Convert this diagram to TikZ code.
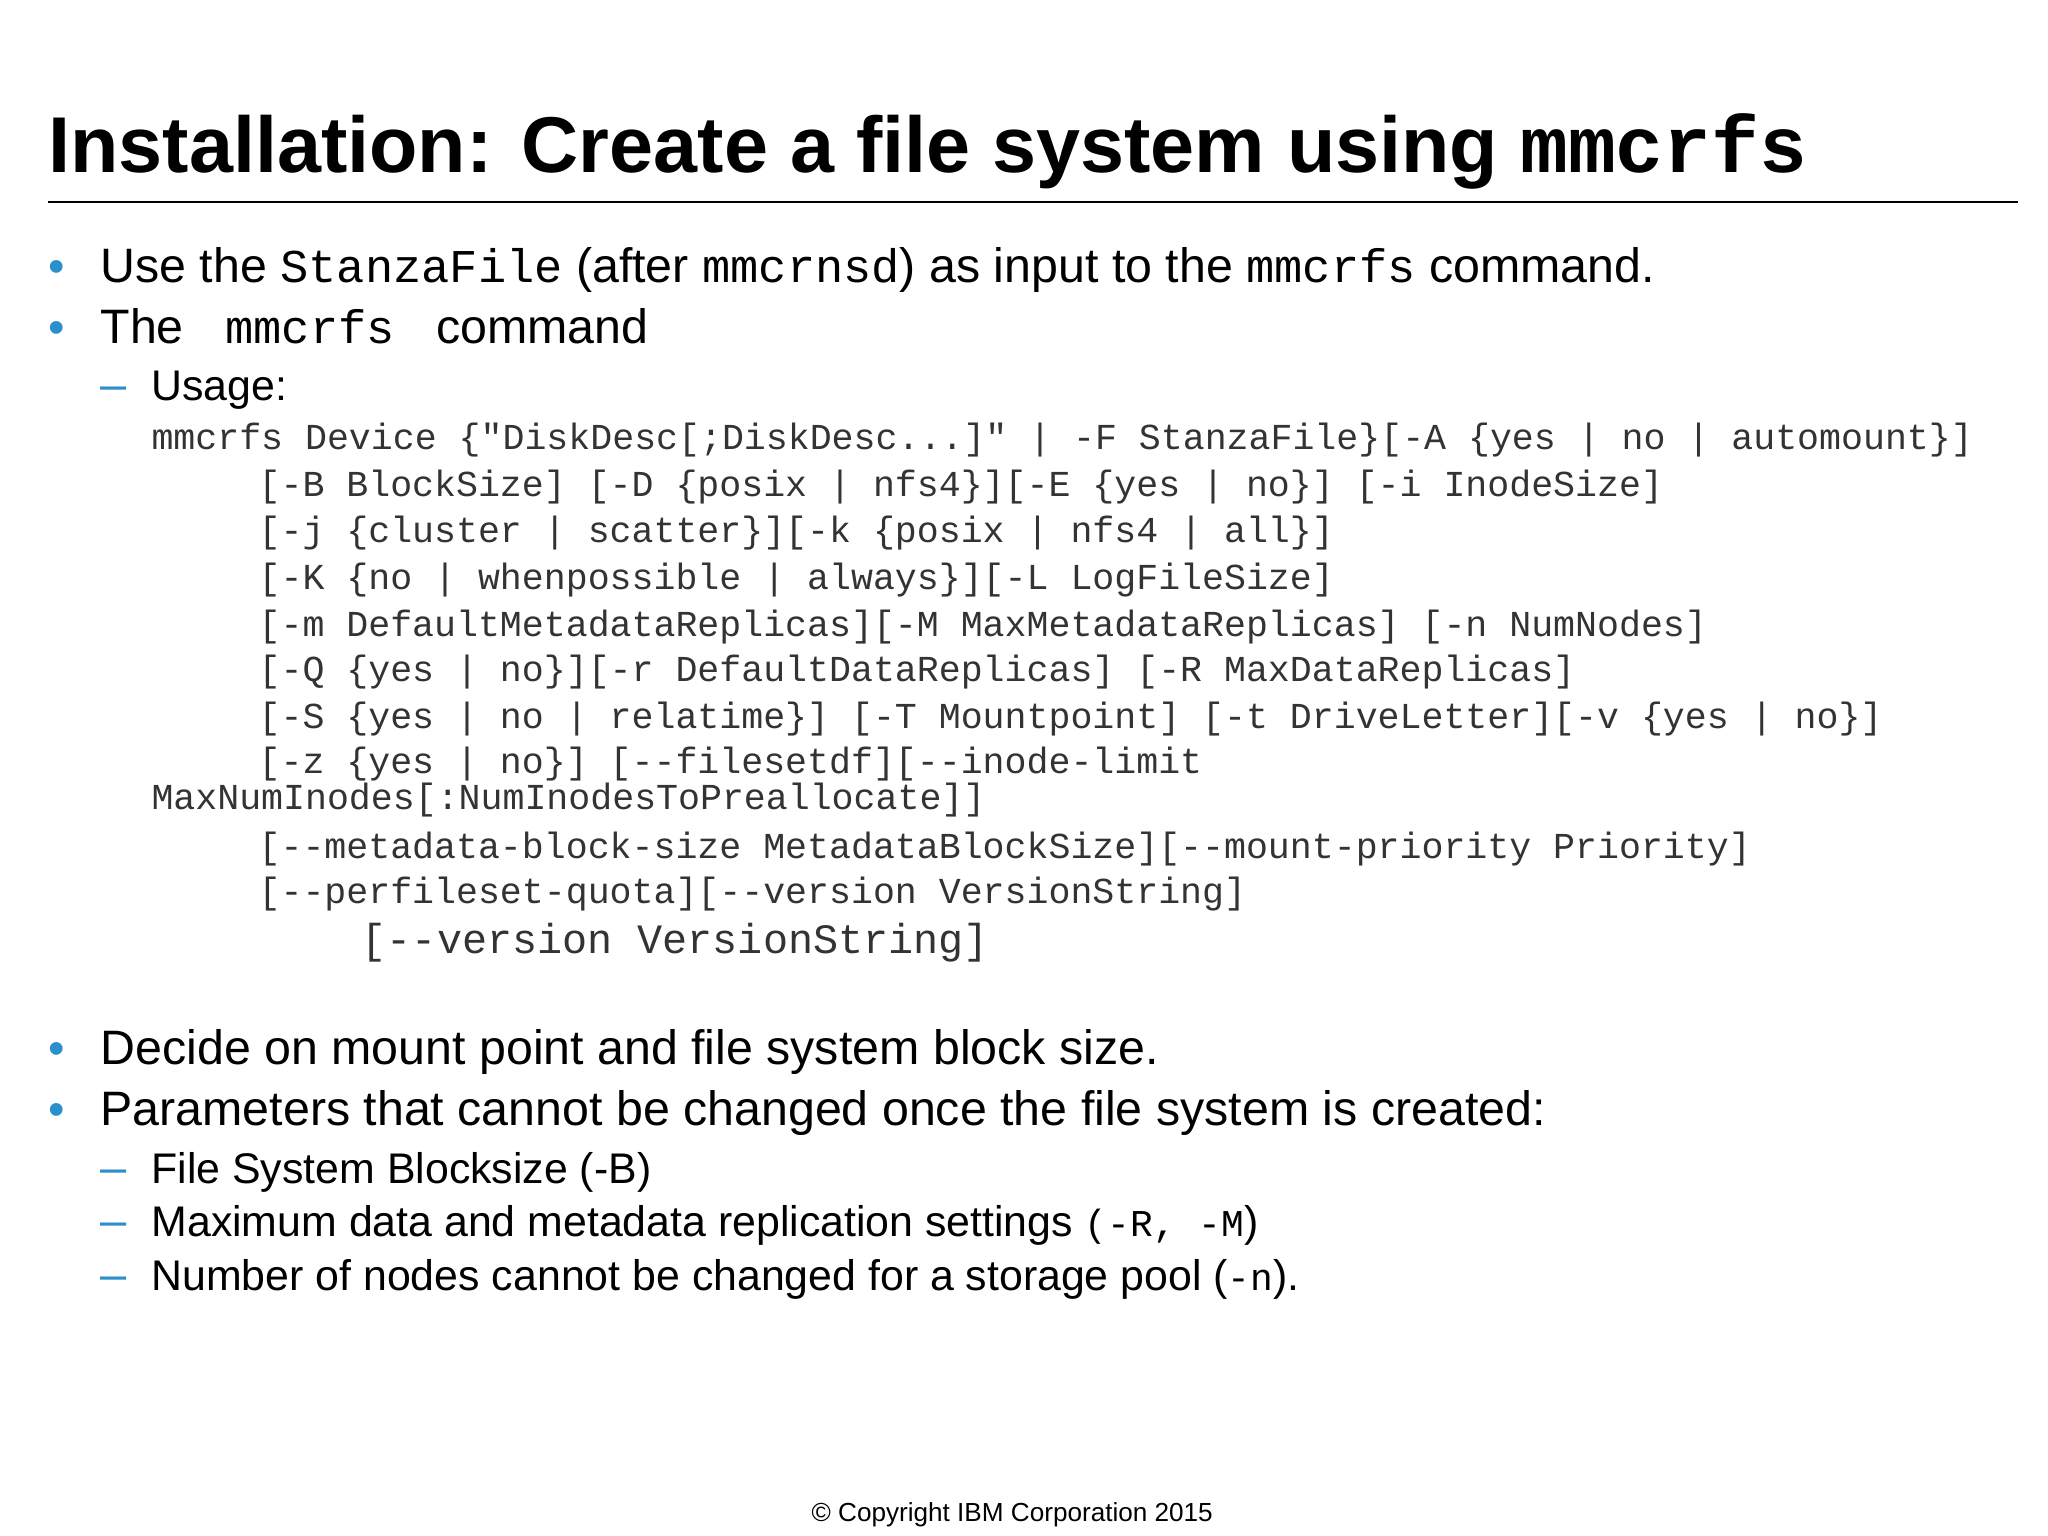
\documentclass[tikz,border=0pt]{standalone}
\usepackage{fontspec}
\setmainfont{Liberation Sans}
\newfontfamily\mono{Liberation Mono}
\definecolor{ibmblue}{HTML}{2A8FCB}
\definecolor{codegray}{HTML}{333333}
\begin{document}
\begin{tikzpicture}[x=0.5pt,y=-0.5pt,
  every node/.style={anchor=base west,inner sep=0pt,outer sep=0pt},
  body/.style={font=\fontsize{18.5}{20}\selectfont},
  sub/.style={font=\fontsize{16.4}{19}\selectfont},
  code/.style={font=\mono\fontsize{14}{16}\selectfont,text=codegray},
  mk/.style={text=ibmblue,font=\fontsize{18}{20}\selectfont}]
\useasboundingbox (0,0) rectangle (1568,1176);
\node (title) at (37,132) {\fontsize{30.3}{34}\selectfont\bfseries Installation: Create a file system using {\mono\fontsize{30.5}{34}\selectfont mmcrfs}};
\draw[line width=0.8pt] (37,155) -- (1545,155);
\node[mk] (b1) at (37,216) {•};
\node[body] (t1) at (77,216) {Use the {\mono\fontsize{18}{20}\selectfont StanzaFile} (after {\mono\fontsize{18}{20}\selectfont mmcrnsd}) as input to the {\mono\fontsize{18}{20}\selectfont mmcrfs} command.};
\node[mk] (b2) at (37,263) {•};
\node[body] (t2) at (77,263) {The {\mono\fontsize{18}{20}\selectfont\ mmcrfs\ } command};
\node[mk] (d1) at (77,307) {–};
\node[sub] (t3) at (116,307) {Usage:};
\node[code] (c1) at (116,344) {mmcrfs Device \{"DiskDesc[;DiskDesc...]" | -F StanzaFile\}[-A \{yes | no | automount\}]};
\node[code] (c2) at (198,380) {[-B BlockSize] [-D \{posix | nfs4\}][-E \{yes | no\}] [-i InodeSize]};
\node[code] (c3) at (198,415) {[-j \{cluster | scatter\}][-k \{posix | nfs4 | all\}]};
\node[code] (c4) at (198,451) {[-K \{no | whenpossible | always\}][-L LogFileSize]};
\node[code] (c5) at (198,487) {[-m DefaultMetadataReplicas][-M MaxMetadataReplicas] [-n NumNodes]};
\node[code] (c6) at (198,522) {[-Q \{yes | no\}][-r DefaultDataReplicas] [-R MaxDataReplicas]};
\node[code] (c7) at (198,558) {[-S \{yes | no | relatime\}] [-T Mountpoint] [-t DriveLetter][-v \{yes | no\}]};
\node[code] (c8) at (198,592) {[-z \{yes | no\}] [-{}-filesetdf][-{}-inode-limit};
\node[code] (c9) at (116,620) {MaxNumInodes[:NumInodesToPreallocate]]};
\node[code] (c10) at (198,657) {[-{}-metadata-block-size MetadataBlockSize][-{}-mount-priority Priority]};
\node[code] (c11) at (198,692) {[-{}-perfileset-quota][-{}-version VersionString]};
\node[code,font=\mono\fontsize{16}{18}\selectfont] (c12) at (277,730) {[-{}-version VersionString]};
\node[mk] (b3) at (37,815) {•};
\node[body] (t4) at (77,815) {Decide on mount point and file system block size.};
\node[mk] (b4) at (37,862) {•};
\node[body] (t5) at (77,862) {Parameters that cannot be changed once the file system is created:};
\node[mk] (d2) at (77,906) {–};
\node[sub] (t6) at (116,906) {File System Blocksize (-B)};
\node[mk] (d3) at (77,947) {–};
\node[sub] (t7) at (116,947) {Maximum data and metadata replication settings {\mono\fontsize{14.5}{17}\selectfont(-R, -M})};
\node[mk] (d4) at (77,988) {–};
\node[sub] (t8) at (116,988) {Number of nodes cannot be changed for a storage pool ({\mono\fontsize{14.5}{17}\selectfont -n}).};
\node[anchor=base] (foot) at (775,1165) {\fontsize{10}{12}\selectfont © Copyright IBM Corporation 2015};
\end{tikzpicture}
\end{document}
